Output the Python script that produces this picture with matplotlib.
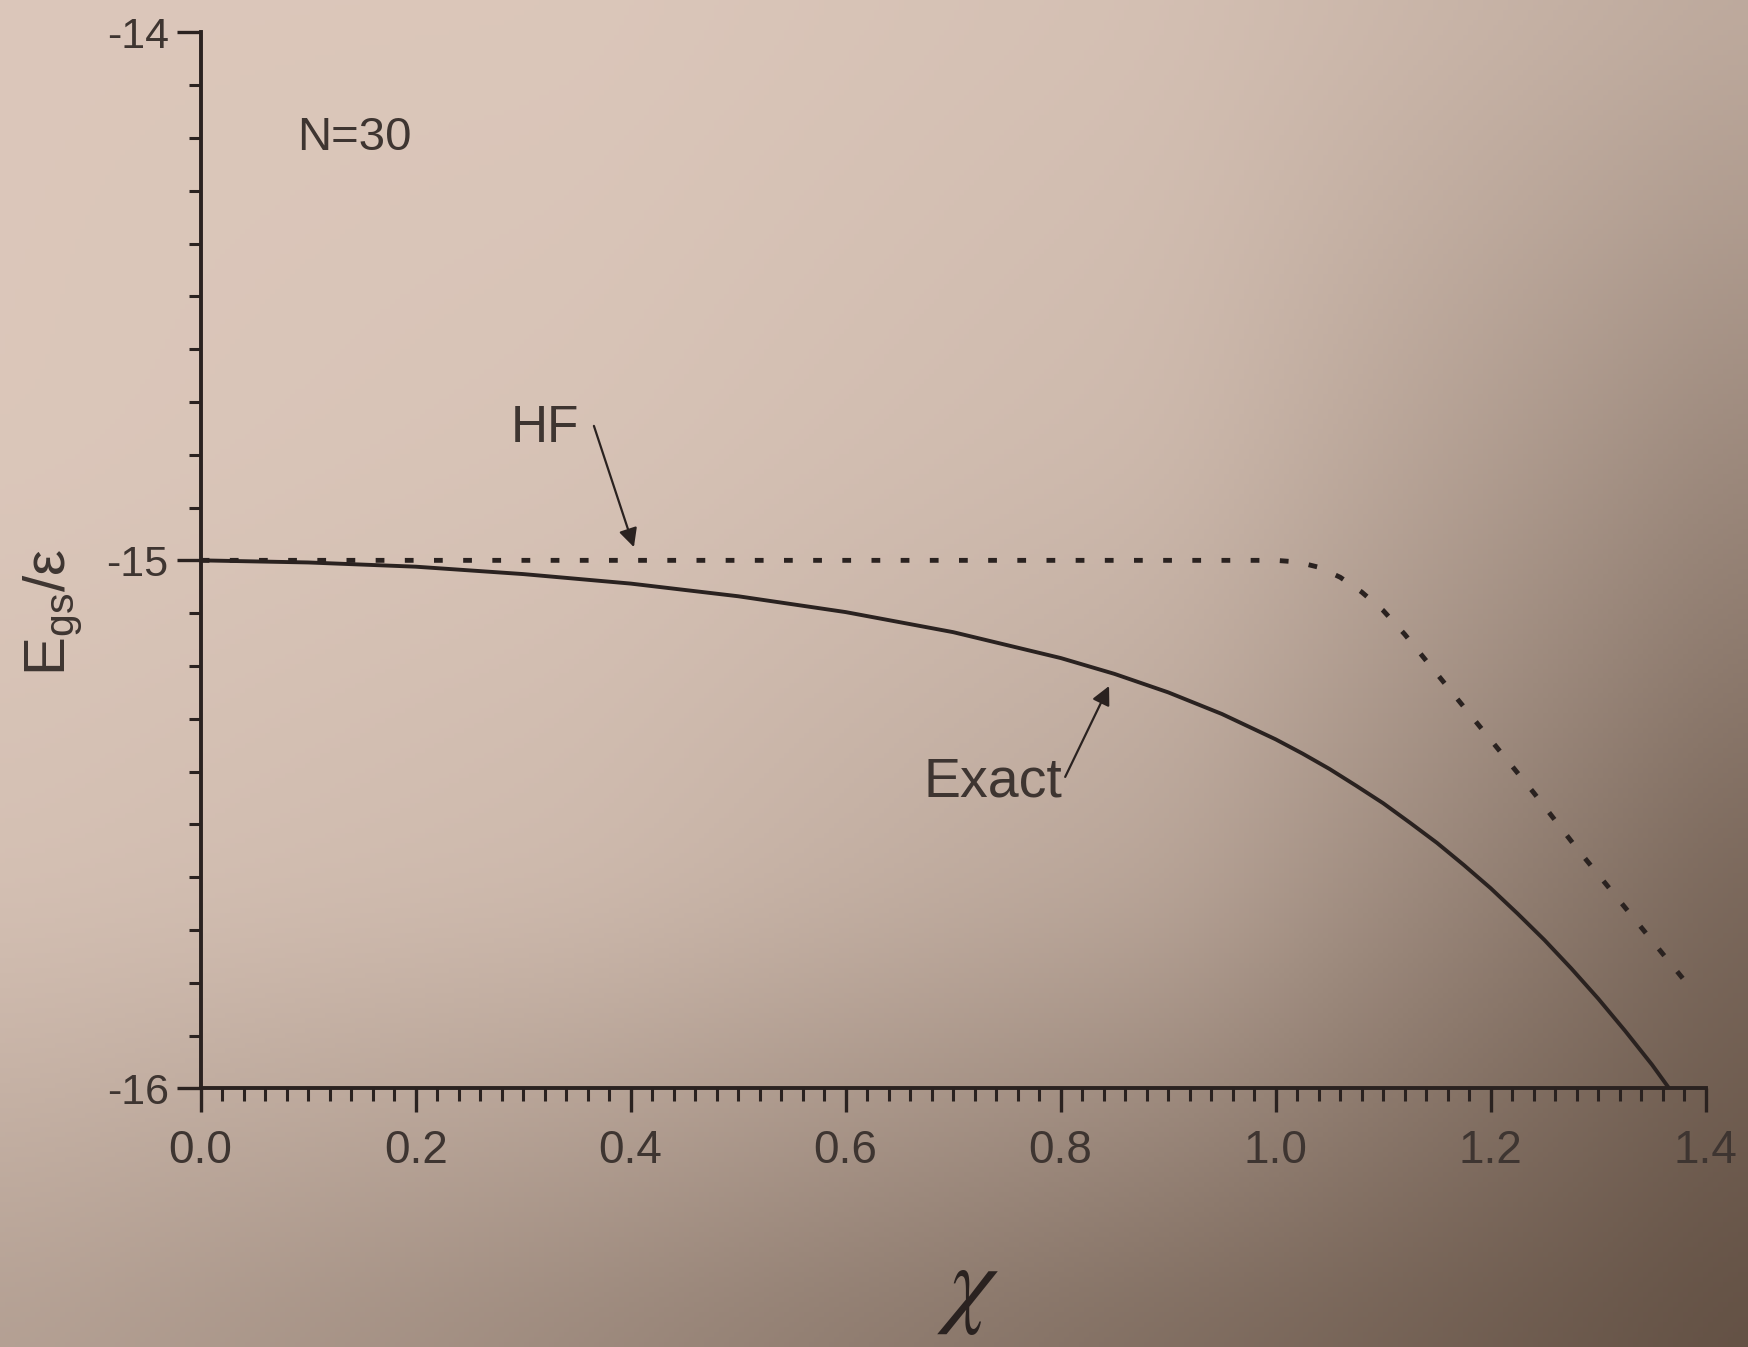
import numpy as np
import matplotlib
matplotlib.use("Agg")
import matplotlib.pyplot as plt
from matplotlib.ticker import MultipleLocator, FixedLocator

# ---- data ----
chi_exact = [0.00, 0.10, 0.20, 0.30, 0.40, 0.50, 0.60, 0.70, 0.80, 0.85, 0.90,
             0.95, 1.00, 1.025, 1.05, 1.075, 1.10, 1.125, 1.15, 1.175, 1.20,
             1.225, 1.25, 1.275, 1.30, 1.325, 1.35, 1.366]
e_exact = [-15.000, -15.004, -15.012, -15.026, -15.044, -15.068, -15.098, -15.136,
           -15.185, -15.215, -15.250, -15.291, -15.339, -15.366, -15.395, -15.427,
           -15.460, -15.497, -15.535, -15.577, -15.621, -15.669, -15.719, -15.773,
           -15.830, -15.891, -15.955, -16.000]

chi_hf = [0.00, 0.20, 0.40, 0.60, 0.80, 1.00, 1.02, 1.04, 1.06, 1.08, 1.10,
          1.12, 1.14, 1.16, 1.20, 1.24, 1.28, 1.32, 1.36, 1.39]
e_hf = [-15.000, -15.000, -15.000, -15.000, -15.000, -15.000, -15.003, -15.013,
        -15.032, -15.060, -15.095, -15.140, -15.190, -15.240, -15.340, -15.440,
        -15.545, -15.645, -15.745, -15.820]

xtick_vals = [0.0, 0.2, 0.4, 0.6, 0.8, 1.0, 1.2, 1.4]
xtick_labels = ["0.0", "0.2", "0.4", "0.6", "0.8", "1.0", "1.2", "1.4"]
ytick_vals = [-16, -15, -14]
ytick_labels = ["-16", "-15", "-14"]

# ---- figure ----
W, H = 1748, 1347
fig = plt.figure(figsize=(W / 100, H / 100), dpi=100)

# paper-like shaded background (lighting of the photographed page)
bg = fig.add_axes([0, 0, 1, 1], zorder=-10)
bg.set_axis_off()
ctrl = np.array([[0.00, 0.00, 0.05, 0.20],
                 [0.00, 0.03, 0.10, 0.45],
                 [0.05, 0.10, 0.25, 0.70],
                 [0.28, 0.45, 0.65, 0.85]])
cp = np.linspace(0, 1, 4)
nx, ny = 350, 270
xs = np.linspace(0, 1, nx)
ys = np.linspace(0, 1, ny)
tmp = np.array([np.interp(xs, cp, row) for row in ctrl])
field = np.array([np.interp(ys, cp, tmp[:, j]) for j in range(nx)]).T
k = np.ones(25) / 25
for _ in range(2):
    field = np.apply_along_axis(lambda r: np.convolve(np.pad(r, 12, mode="edge"), k, "valid"), 1, field)
    field = np.apply_along_axis(lambda c: np.convolve(np.pad(c, 12, mode="edge"), k, "valid"), 0, field)
light = np.array([0.86, 0.78, 0.73])
dark = np.array([0.30, 0.23, 0.18])
img = light + (dark - light) * field[..., None]
bg.imshow(img, aspect="auto", extent=[0, 1, 0, 1], origin="upper")
bg.set_xlim(0, 1)
bg.set_ylim(0, 1)

ax = fig.add_axes([0.1148, 0.192, 0.861, 0.784])
ax.set_facecolor("none")

line_col = "#2a2220"
text_col = "#3e3531"

ax.plot(chi_exact, e_exact, color=line_col, lw=2.8, solid_capstyle="butt")
ax.plot(chi_hf, e_hf, color=line_col, lw=3.5, linestyle=(0, (1.8, 4.2)))

ax.set_xlim(0, 1.4)
ax.set_ylim(-16, -14)

for s in ["top", "right"]:
    ax.spines[s].set_visible(False)
for s in ["left", "bottom"]:
    ax.spines[s].set_linewidth(2.8)
    ax.spines[s].set_color(line_col)

ax.xaxis.set_major_locator(FixedLocator(xtick_vals))
ax.set_xticklabels(xtick_labels)
ax.yaxis.set_major_locator(FixedLocator(ytick_vals))
ax.set_yticklabels(ytick_labels)
ax.xaxis.set_minor_locator(MultipleLocator(0.02))
ax.yaxis.set_minor_locator(MultipleLocator(0.1))

ax.tick_params(which="major", direction="out", length=17, width=2.4, color=line_col)
ax.tick_params(which="minor", direction="out", length=9, width=2.2, color=line_col)
ax.tick_params(axis="x", which="major", pad=12)
ax.tick_params(axis="y", which="major", pad=6)

for lab in ax.get_xticklabels():
    lab.set_fontfamily("Liberation Sans")
    lab.set_fontsize(33)
    lab.set_color(text_col)
for lab in ax.get_yticklabels():
    lab.set_fontfamily("Liberation Sans")
    lab.set_fontsize(31)
    lab.set_color(text_col)

ax.set_ylabel(r"E$_{\mathregular{gs}}$/ε", fontsize=42, family="Liberation Sans",
              color=text_col)
ax.yaxis.set_label_coords(-0.077, 0.451)

# x-axis label (chi), placed in figure coordinates near the bottom edge
fig.text(0.554, 0.024, r"$\chi$", fontsize=72, math_fontfamily="stix",
         color="#2a2220", ha="center", va="baseline")

ax.text(0.143, -14.20, "N=30", fontsize=34, family="Liberation Sans",
        color=text_col, ha="center", va="center")

ax.annotate("HF", xy=(0.403, -14.975), xytext=(0.32, -14.75),
            fontsize=37, family="Liberation Sans", color=text_col,
            ha="center", va="center",
            arrowprops=dict(arrowstyle="-|>", color=line_col, lw=1.6,
                            mutation_scale=28, shrinkA=0, shrinkB=0,
                            relpos=(1.22, 0.55)))
ax.annotate("Exact", xy=(0.845, -15.238), xytext=(0.737, -15.42),
            fontsize=40, family="Liberation Sans", color=text_col,
            ha="center", va="center",
            arrowprops=dict(arrowstyle="-|>", color=line_col, lw=1.6,
                            mutation_scale=28, shrinkA=0, shrinkB=0,
                            relpos=(1.02, 0.6)))

fig.savefig("out.png", dpi=100)
